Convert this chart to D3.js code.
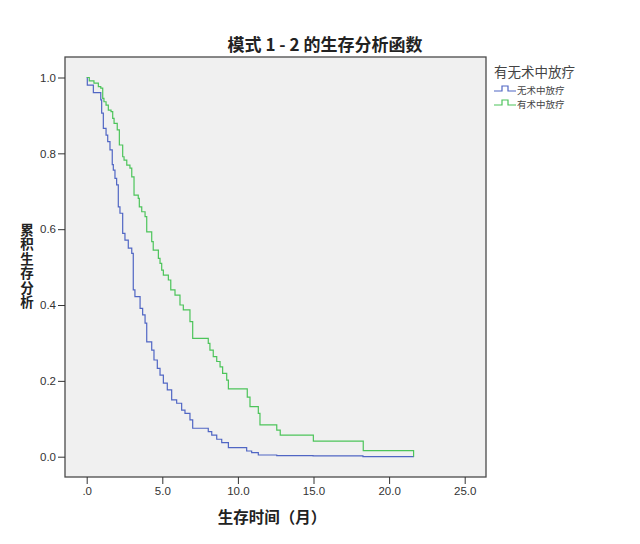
<!DOCTYPE html>
<html>
<head>
<meta charset="utf-8">
<script src="https://cdn.jsdelivr.net/npm/d3@7"></script>
<style>
  body { margin: 0; background: #fff; }
  text { font-family: "Liberation Sans", Arial, "Noto Sans CJK SC", sans-serif; }
  .cjk { font-family: "Noto Sans CJK SC", sans-serif; }
</style>
</head>
<body>
<svg id="chart" width="640" height="544"></svg>
<script>
// survival times (months) and cumulative survival after each step
var groups = ["无术中放疗", "有术中放疗"];

var blueTime = [0, 0.04, 0.44, 0.93, 0.99, 1.10, 1.28, 1.39, 1.54, 1.69, 1.76, 1.87, 1.98,
  2.09, 2.20, 2.38, 2.53, 2.75, 2.98, 3.08, 3.19, 3.53, 3.70, 3.86, 3.97, 4.30, 4.45,
  4.67, 4.85, 5.07, 5.33, 5.62, 5.95, 6.28, 6.50, 6.83, 7.01, 8.04, 8.27, 8.60, 8.93,
  9.37, 10.58, 10.91, 11.35, 12.57, 14.97, 18.27, 21.65];
var blueSurv = [1.0, 0.980, 0.960, 0.941, 0.906, 0.866, 0.848, 0.831, 0.809, 0.770, 0.756,
  0.734, 0.717, 0.659, 0.642, 0.589, 0.571, 0.550, 0.536, 0.440, 0.422, 0.391, 0.374,
  0.352, 0.303, 0.281, 0.255, 0.233, 0.215, 0.194, 0.176, 0.150, 0.141, 0.123, 0.114,
  0.097, 0.075, 0.066, 0.057, 0.046, 0.037, 0.024, 0.015, 0.011, 0.0045, 0.003, 0.002,
  0.0, 0.0];

var greenTime = [0, 0.17, 0.48, 0.77, 0.93, 1.06, 1.14, 1.28, 1.43, 1.61, 1.72, 1.81, 2.02,
  2.16, 2.38, 2.47, 2.65, 2.86, 2.98, 3.13, 3.41, 3.48, 3.64, 3.86, 3.97, 4.30, 4.40,
  4.74, 4.85, 4.96, 5.07, 5.40, 5.56, 5.84, 6.17, 6.39, 6.83, 7.01, 8.04, 8.15, 8.37,
  8.60, 8.82, 8.99, 9.26, 9.37, 10.62, 10.80, 11.35, 11.46, 12.57, 12.80, 14.99, 18.29,
  21.62, 21.62];
var greenSurv = [1.0, 0.991, 0.985, 0.976, 0.972, 0.945, 0.936, 0.927, 0.914, 0.910, 0.892,
  0.879, 0.862, 0.822, 0.791, 0.782, 0.769, 0.761, 0.738, 0.690, 0.681, 0.659, 0.646,
  0.633, 0.593, 0.567, 0.545, 0.523, 0.510, 0.492, 0.479, 0.466, 0.440, 0.426, 0.400,
  0.387, 0.356, 0.312, 0.299, 0.281, 0.264, 0.251, 0.237, 0.220, 0.202, 0.179, 0.157,
  0.132, 0.114, 0.084, 0.070, 0.057, 0.041, 0.016, 0.016, 0.0];

var xTicks = [0, 5, 10, 15, 20, 25];
var xTickLabels = [".0", "5.0", "10.0", "15.0", "20.0", "25.0"];
var yTicks = [0, 0.2, 0.4, 0.6, 0.8, 1.0];
var yTickLabels = ["0.0", "0.2", "0.4", "0.6", "0.8", "1.0"];

var colors = ["#5066c4", "#4cc45a"];

var svg = d3.select("#chart");
var frame = { left: 65, top: 57, right: 486, bottom: 477 };

var x = d3.scaleLinear().domain([0, 25]).range([86.7, 464.7]);
var y = d3.scaleLinear().domain([0, 1]).range([456.7, 77.5]);

svg.append("rect")
  .attr("x", frame.left).attr("y", frame.top)
  .attr("width", frame.right - frame.left).attr("height", frame.bottom - frame.top)
  .attr("fill", "#f0f0f0")
  .attr("stroke", "#4a4a4a")
  .attr("stroke-width", 1.3);

// axes
var yAxis = d3.axisLeft(y).tickValues(yTicks)
  .tickFormat(function (d, i) { return yTickLabels[i]; })
  .tickSize(7).tickPadding(2);
svg.append("g").attr("transform", "translate(" + frame.left + ",0)")
  .call(yAxis)
  .call(function (g) { g.select(".domain").remove(); })
  .call(function (g) {
    g.selectAll("line").attr("stroke", "#333");
    g.selectAll("text").attr("fill", "#333").style("font-size", "11.5px");
  });

var xAxis = d3.axisBottom(x).tickValues(xTicks)
  .tickFormat(function (d, i) { return xTickLabels[i]; })
  .tickSize(7).tickPadding(3);
svg.append("g").attr("transform", "translate(0," + frame.bottom + ")")
  .call(xAxis)
  .call(function (g) { g.select(".domain").remove(); })
  .call(function (g) {
    g.selectAll("line").attr("stroke", "#333");
    g.selectAll("text").attr("fill", "#333").style("font-size", "11.5px");
  });

// curves
var line = d3.line()
  .x(function (d) { return x(d[0]); })
  .y(function (d) { return y(d[1]); })
  .curve(d3.curveStepAfter);

var series = [d3.zip(blueTime, blueSurv), d3.zip(greenTime, greenSurv)];

svg.selectAll("path.km")
  .data(series)
  .enter().append("path")
  .attr("class", "km")
  .attr("d", line)
  .attr("fill", "none")
  .attr("stroke", function (d, i) { return colors[i]; })
  .attr("stroke-width", 1.2);

// title
svg.append("text")
  .attr("class", "cjk")
  .attr("x", 325).attr("y", 51)
  .attr("text-anchor", "middle")
  .attr("font-weight", "bold")
  .attr("font-size", "17px")
  .attr("fill", "#222")
  .text("模式 1 - 2 的生存分析函数");

// y label, written top to bottom
svg.append("text")
  .attr("class", "cjk")
  .attr("x", 27).attr("y", 223)
  .style("writing-mode", "vertical-rl")
  .style("letter-spacing", "1px")
  .attr("font-weight", "bold")
  .attr("font-size", "13.5px")
  .attr("fill", "#222")
  .text("累积生存分析");

// x label
svg.append("text")
  .attr("class", "cjk")
  .attr("x", 272).attr("y", 523)
  .attr("text-anchor", "middle")
  .attr("font-weight", "bold")
  .attr("font-size", "15.5px")
  .attr("fill", "#222")
  .text("生存时间（月）");

// legend
svg.append("text")
  .attr("class", "cjk")
  .attr("x", 494).attr("y", 77)
  .attr("font-size", "13.5px")
  .attr("fill", "#444")
  .text("有无术中放疗");

var legendTop = 91, legendStep = 14;

var legend = svg.append("g").selectAll("g")
  .data(groups)
  .enter().append("g")
  .attr("transform", function (d, i) { return "translate(494," + (legendTop + i * legendStep) + ")"; });

legend.append("path")
  .attr("d", "M0,0H8V-5H14V0H22")
  .attr("fill", "none")
  .attr("stroke", function (d, i) { return colors[i]; })
  .attr("stroke-width", 1.2);

legend.append("text")
  .attr("class", "cjk")
  .attr("x", 23).attr("y", 3)
  .attr("font-size", "9.5px")
  .attr("fill", "#444")
  .text(function (d) { return d; });
</script>
</body>
</html>
